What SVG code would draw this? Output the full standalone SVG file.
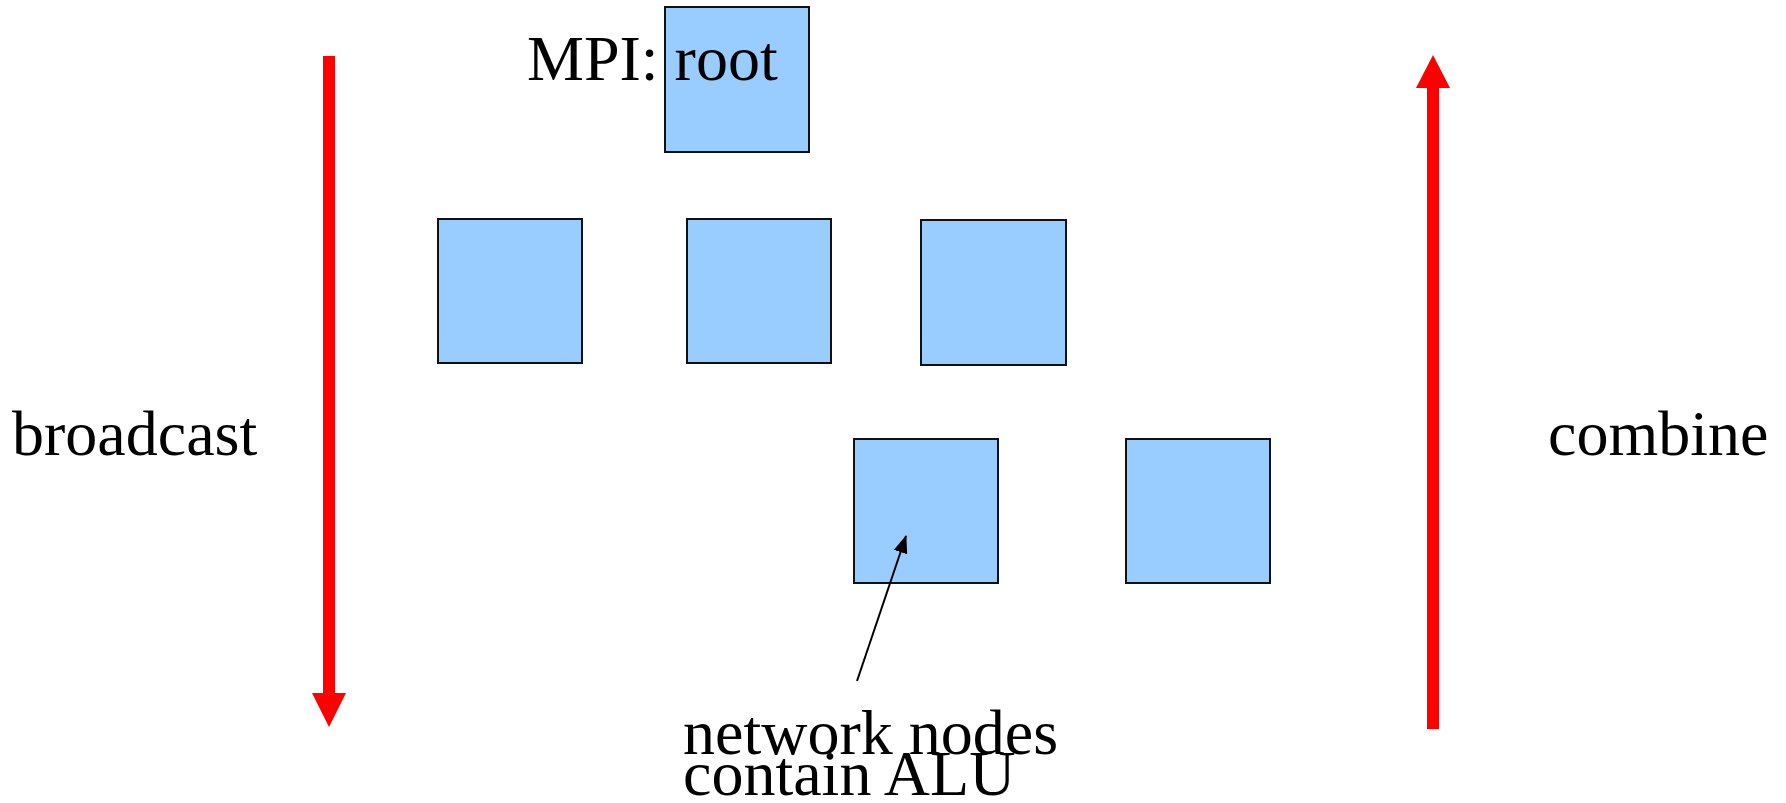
<svg xmlns="http://www.w3.org/2000/svg" width="1786" height="803" viewBox="0 0 1786 803">
  <style>
    .node { fill: #99ccff; stroke: #111; stroke-width: 2; }
    .label { font-family: "Liberation Serif", "Times New Roman", serif; font-size: 64px; fill: #000; }
    .flow { stroke: #ff0000; stroke-width: 12; fill: none; }
    .head { fill: #ff0000; }
    .pointer { stroke: #000; stroke-width: 2; fill: none; }
  </style>
  <defs>
    <marker id="tip" markerWidth="18" markerHeight="14" refX="17" refY="7" orient="auto" markerUnits="userSpaceOnUse" viewBox="0 0 18 14">
      <path d="M0,0 L18,7 L0,14 Z" fill="#000"/>
    </marker>
  </defs>

  <!-- root of the tree -->
  <g id="node-root">
    <rect class="node" x="665" y="7" width="144" height="145"/>
  </g>
  <text class="label" x="527" y="80">MPI: root</text>

  <!-- second level -->
  <g id="node-a">
    <rect class="node" x="438" y="219" width="144" height="144"/>
  </g>
  <g id="node-b">
    <rect class="node" x="687" y="219" width="144" height="144"/>
  </g>
  <g id="node-c">
    <rect class="node" x="921" y="220" width="145" height="145"/>
  </g>

  <!-- third level -->
  <g id="node-d">
    <rect class="node" x="854" y="439" width="144" height="144"/>
  </g>
  <g id="node-e">
    <rect class="node" x="1126" y="439" width="144" height="144"/>
  </g>

  <g id="connectors">
    <!-- broadcast: downward -->
    <line class="flow" x1="329" y1="56" x2="329" y2="695"/>
    <polygon class="head" points="312,693 346,693 329,727"/>
    <!-- combine: upward -->
    <line class="flow" x1="1433" y1="729" x2="1433" y2="86"/>
    <polygon class="head" points="1416,88 1450,88 1433,55"/>
    <!-- annotation pointer -->
    <line class="pointer" x1="857" y1="681" x2="906" y2="536" marker-end="url(#tip)"/>
  </g>

  <text class="label" x="12" y="455">broadcast</text>
  <text class="label" x="1548" y="455">combine</text>
  <text class="label" x="683" y="754">network nodes</text>
  <text class="label" x="683" y="795">contain ALU</text>
</svg>
